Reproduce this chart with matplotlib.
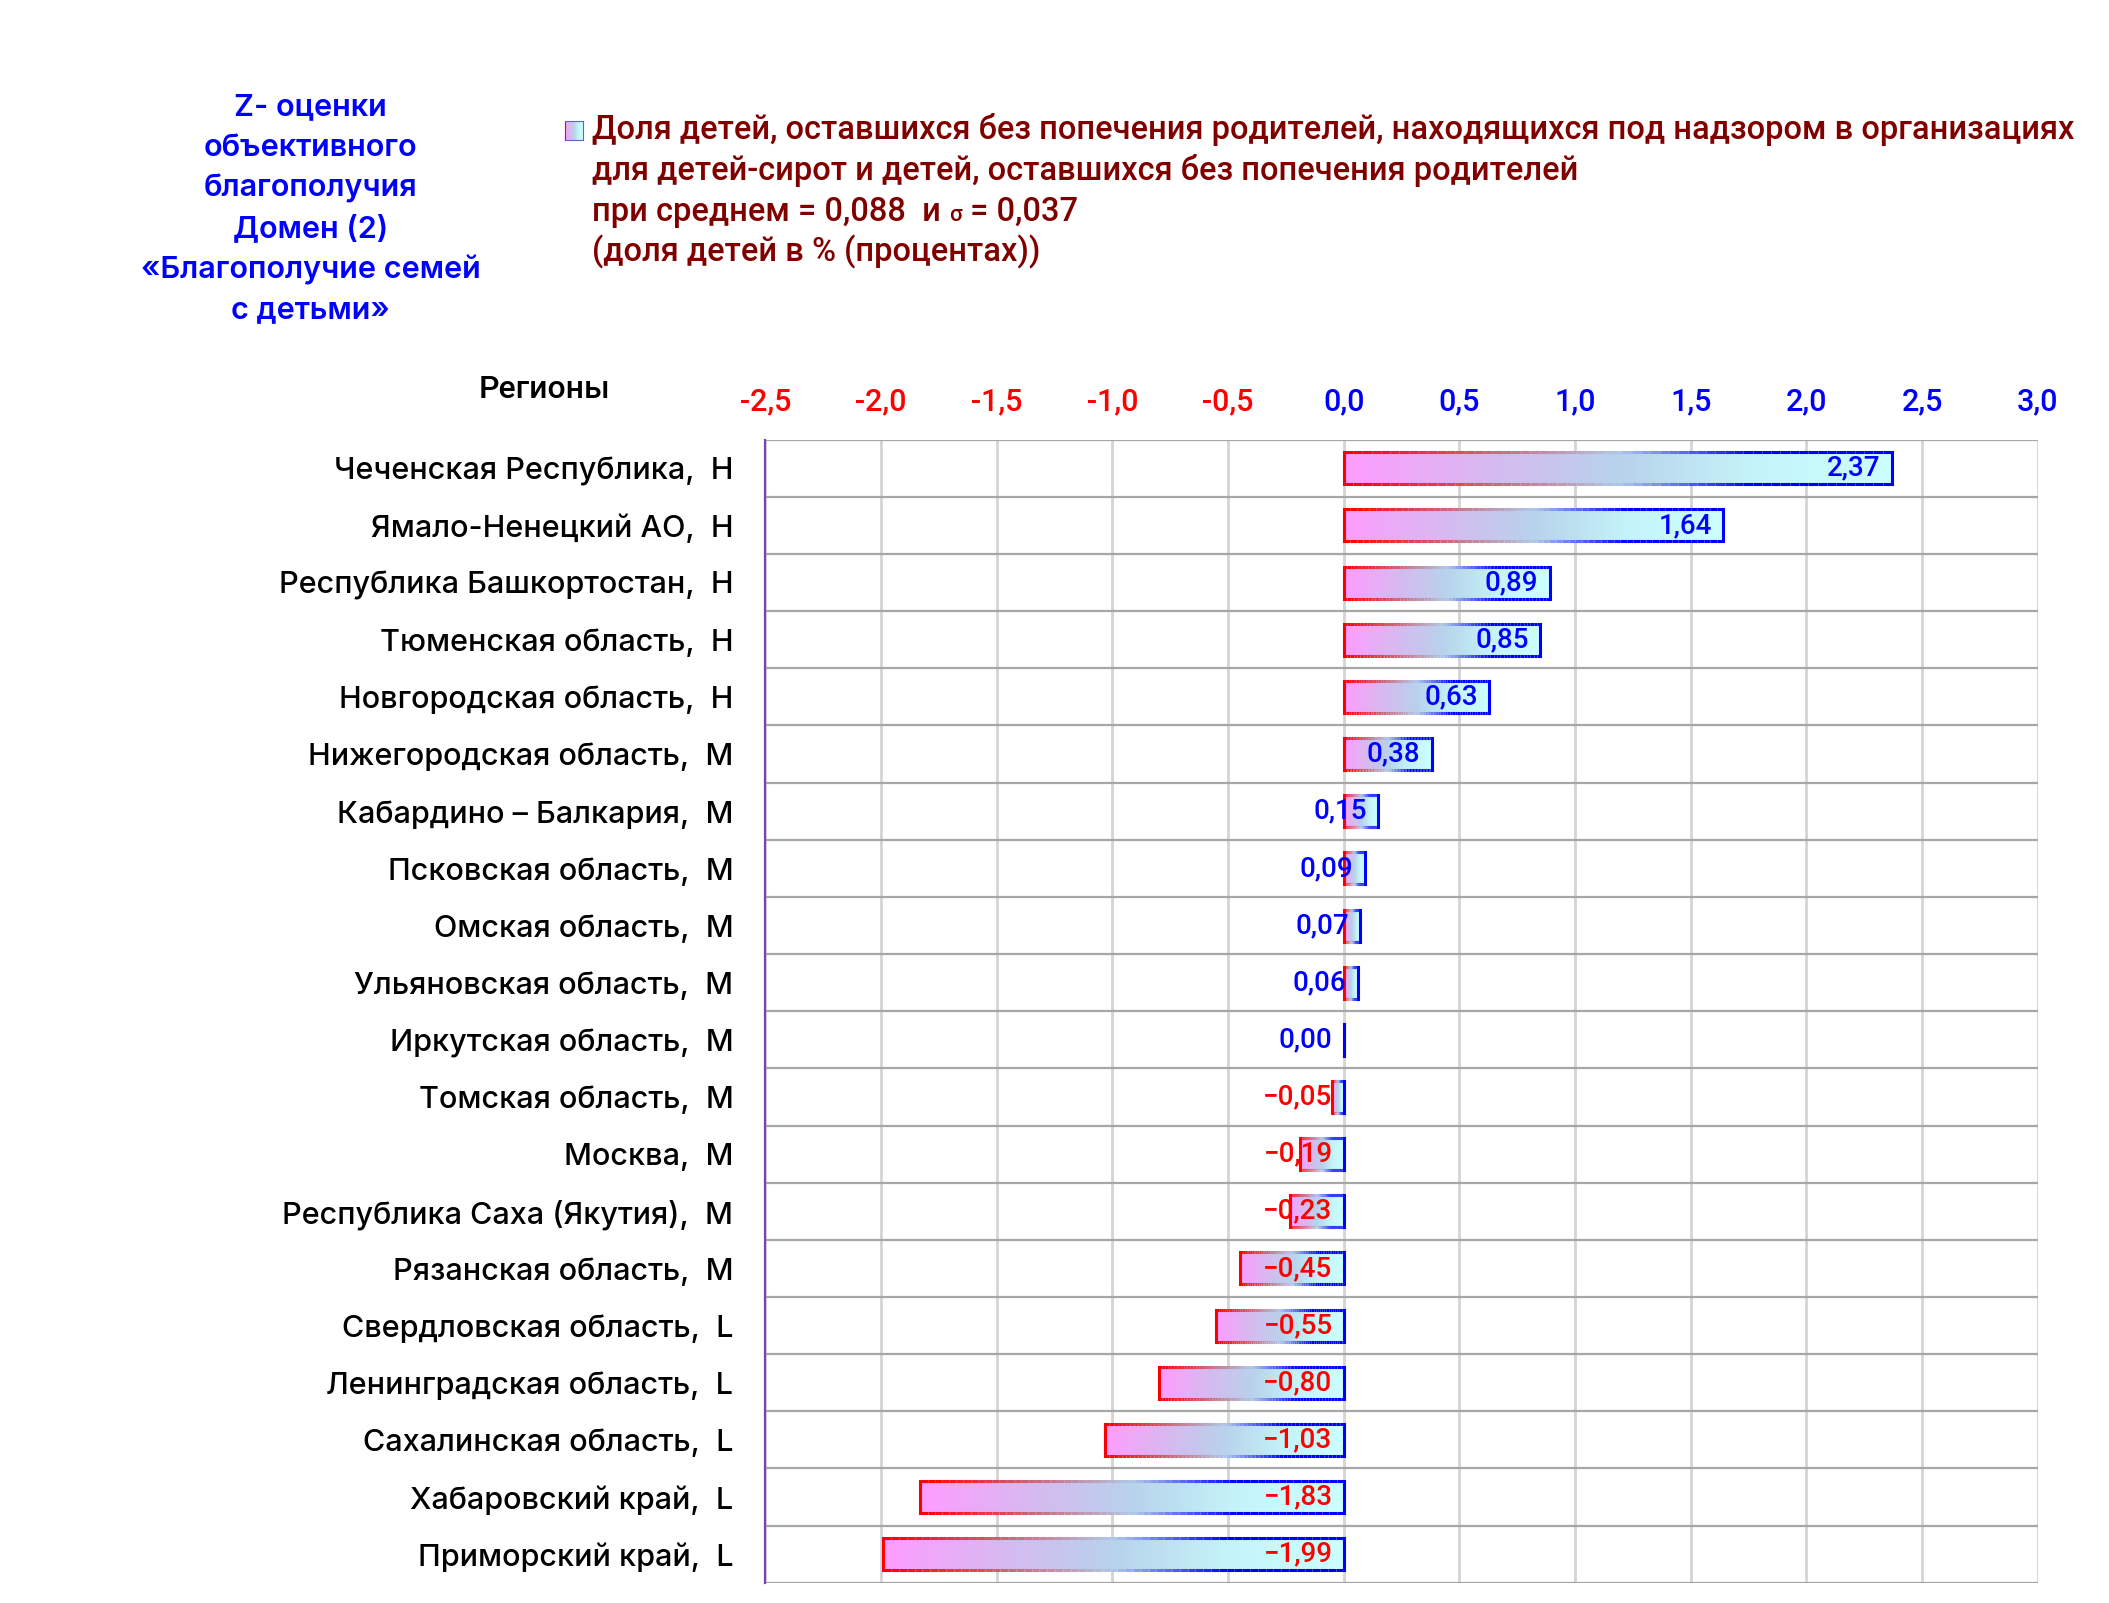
import numpy as np
import matplotlib
matplotlib.use("Agg")
import matplotlib.pyplot as plt
from matplotlib.colors import LinearSegmentedColormap
from matplotlib.collections import LineCollection

plt.rcParams['font.family'] = ['Roboto', 'DejaVu Sans']
WIDE = ['Inter', 'Roboto', 'DejaVu Sans']

# data, top to bottom
regions = ["Чеченская Республика,  Н", "Ямало-Ненецкий АО,  Н", "Республика Башкортостан,  Н",
           "Тюменская область,  Н", "Новгородская область,  Н", "Нижегородская область,  М",
           "Кабардино – Балкария,  М", "Псковская область,  М", "Омская область,  М",
           "Ульяновская область,  М", "Иркутская область,  М", "Томская область,  М",
           "Москва,  М", "Республика Саха (Якутия),  М", "Рязанская область,  М",
           "Свердловская область,  L", "Ленинградская область,  L", "Сахалинская область,  L",
           "Хабаровский край,  L", "Приморский край,  L"]
zscores = [2.37, 1.64, 0.89, 0.85, 0.63, 0.38, 0.15, 0.09, 0.07, 0.06, 0.00,
           -0.05, -0.19, -0.23, -0.45, -0.55, -0.80, -1.03, -1.83, -1.99]
xticks = [-2.5, -2.0, -1.5, -1.0, -0.5, 0.0, 0.5, 1.0, 1.5, 2.0, 2.5, 3.0]

left_title = ["Z- оценки", "объективного", "благополучия", "Домен (2)",
              "«Благополучие семей", "с детьми»"]
right_title = ["Доля детей, оставшихся без попечения родителей, находящихся под надзором в организациях",
               "для детей-сирот и детей, оставшихся без попечения родителей",
               None,
               "(доля детей в % (процентах))"]
stats_parts = [("при среднем = 0,088  и ", 23.5), ("σ", 16), (" = 0,037", 23.5)]

fill_cmap = LinearSegmentedColormap.from_list("fill", ["#ff9cff", "#d9b8f0", "#b8d2ec", "#c4f4f8", "#ccffff"])
edge_cmap = LinearSegmentedColormap.from_list("edge", ["#ff0000", "#d06070", "#b0c8e8", "#0000ff", "#0000ff"])

fig = plt.figure(figsize=(21.09, 16.03), dpi=100)
ax = fig.add_axes([0.3629, 0.0126, 0.6033, 0.7131])

n = len(regions)
h = 0.56
grad = np.linspace(0, 1, 256).reshape(1, -1)
for i, v in enumerate(zscores):
    x0, x1 = min(v, 0), max(v, 0)
    y0, y1 = i - h / 2, i + h / 2
    if x1 > x0:
        ax.imshow(grad, cmap=fill_cmap, extent=(x0, x1, y1, y0), aspect='auto',
                  interpolation='bilinear', zorder=3)
    # gradient border
    xs = np.linspace(x0, x1, 60)
    cols = edge_cmap(np.linspace(0, 1, 59))
    for yy in (y0, y1):
        segs = [[(xs[k], yy), (xs[k + 1], yy)] for k in range(59)]
        ax.add_collection(LineCollection(segs, colors=cols, linewidths=2.2, zorder=4))
    ax.plot([x0, x0], [y0, y1], color="#ff0000", lw=2.2, zorder=4, solid_capstyle='projecting')
    ax.plot([x1, x1], [y0, y1], color="#0000ff", lw=2.2, zorder=4, solid_capstyle='projecting')
    lab = f"{abs(v):.2f}".replace(".", ",")
    if v < 0:
        lab = "−" + lab
    ax.annotate(lab, xy=(x1, i), xytext=(-8, 0), textcoords='offset points',
                ha='right', va='center', fontsize=20, fontweight='medium',
                color="#ff0000" if v < 0 else "#0000ff", zorder=5)

ax.set_xlim(-2.5, 3.0)
ax.set_ylim(n - 0.5, -0.5)

# grid
for t in xticks:
    ax.axvline(t, color="#d4d4d4", lw=2, zorder=1)
ax.hlines(np.arange(-0.5, n), -2.5, 3.0, color="#a6a6a6", lw=1.6, zorder=2)

for s in ["top", "right", "bottom"]:
    ax.spines[s].set_visible(False)
ax.spines["left"].set_color("#8040b0")
ax.spines["left"].set_linewidth(1.6)

ax.xaxis.tick_top()
ax.set_xticks(xticks)
ax.set_xticklabels([f"{t:.1f}".replace(".", ",") for t in xticks])
for lbl, t in zip(ax.get_xticklabels(), xticks):
    lbl.set_color("#ff0000" if t < 0 else "#0000ff")
    lbl.set_fontweight('medium')
ax.tick_params(axis='x', length=0, pad=17, labelsize=22)
ax.set_yticks(range(n))
ax.set_yticklabels(regions, fontsize=22, fontweight='medium', family=WIDE)
ax.tick_params(axis='y', length=0, pad=23)

fig.text(0.2583, 0.757, "Регионы", fontsize=23, fontweight='medium',
         ha='center', va='center')

for k, line in enumerate(left_title):
    fig.text(0.1474, 0.933 - k * 0.0253, line, fontsize=22, fontweight='semibold', family=WIDE,
             color="#0000ff", ha='center', va='center')

for k, line in enumerate(right_title):
    if line is not None:
        fig.text(0.2808, 0.919 - k * 0.0253, line, fontsize=23.5, fontweight='medium',
                 color="#800000", ha='left', va='center')

# stats line with a smaller sigma
renderer = fig.canvas.get_renderer()
xpos = 0.2808
ybase = 0.919 - 2 * 0.0253 - 0.006
for part, size in stats_parts:
    t = fig.text(xpos, ybase, part, fontsize=size, fontweight='medium',
                 color="#800000", ha='left', va='baseline')
    bb = t.get_window_extent(renderer)
    xpos = fig.transFigure.inverted().transform((bb.x1, bb.y0))[0]

# legend key
lax = fig.add_axes([0.268, 0.9125, 0.0085, 0.0118])
lax.imshow(grad, cmap=fill_cmap, aspect='auto', extent=(0, 1, 0, 1))
lax.set_xticks([])
lax.set_yticks([])
for s in lax.spines.values():
    s.set_color("#6060d0")
lax.spines["left"].set_color("#ff0000")

fig.savefig("out.png", dpi=100)
